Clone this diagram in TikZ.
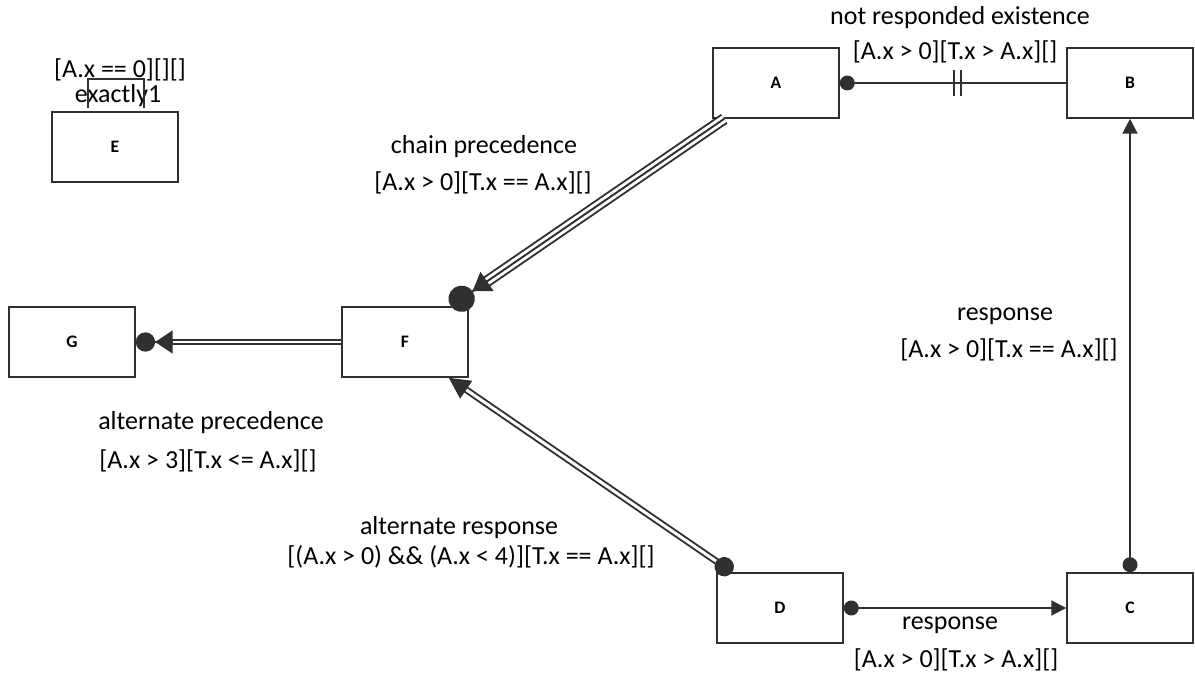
\documentclass[tikz,border=0pt]{standalone}
\usepackage{fontspec}
\setmainfont{Carlito}
\usepackage{tikz}
\usetikzlibrary{arrows.meta, calc}
\definecolor{linegray}{HTML}{303030}
\tikzstyle{conn} = [line width=1.3pt, draw=linegray]
\tikzstyle{dbl} = [draw=linegray, line width=1.1pt, double=white, double distance=1.7pt]
\tikzstyle{trpl} = [draw=linegray, line width=1.1pt, double=white, double distance=4.4pt]
\tikzstyle{tipline} = [line width=1.1pt, draw=linegray]

\begin{document}
\begin{tikzpicture}[box/.style={rectangle, draw=linegray, line width=0.9pt, minimum width=2.52cm, minimum height=1.4cm, font=\fontsize{10}{12}\selectfont\bfseries},
    lbl/.style={font=\fontsize{14.8}{16}\selectfont, inner sep=0pt}]
    \useasboundingbox (0,0) rectangle (23.9,13.5);

    \node[box] (E) at (2.30, 10.56) {E};
    \node[box] (A) at (15.52, 11.84) {A};
    \node[box] (B) at (22.60, 11.84) {B};
    \node[box] (F) at (8.10, 6.66) {F};
    \node[box] (G) at (1.44, 6.66) {G};
    \node[box] (D) at (15.60, 1.34) {D};
    \node[box] (C) at (22.60, 1.34) {C};

    % E
    \node[lbl] (econd) at (2.40, 12.10) {[A.x == 0][][]};
    \node[lbl] (ecard) at (2.36, 11.58) {exactly1};
    \draw[linegray, line width=0.9pt] (1.76, 11.34) |- (2.88, 11.92) -- (2.88, 11.34);

    % A - B
    \node[lbl] (abname) at (19.20, 13.14) {not responded existence};
    \node[lbl] (abcond) at (19.10, 12.46) {[A.x > 0][T.x > A.x][]};
    \draw[conn, {Circle[length=8.5pt]}-] (A.east) -- coordinate[pos=0.52] (ab) (B.west);
    \draw[linegray, line width=1.1pt] ($(ab)+(-0.07,-0.26)$) -- ++(0,0.52);
    \draw[linegray, line width=1.1pt] ($(ab)+(0.07,-0.26)$) -- ++(0,0.52);

    % A - F
    \node[lbl] (afname) at (9.68, 10.56) {chain precedence};
    \node[lbl] (afcond) at (9.66, 9.84) {[A.x > 0][T.x == A.x][]};
    \coordinate (af1) at ($(A.south west)+(0.24,0)$);
    \coordinate (af2) at ($(F.north east)+(-0.36,0)$);
    \draw[trpl, shorten >=0.8cm] (af1) -- (af2);
    \draw[linegray, line width=1.1pt, shorten >=0.8cm] (af1) -- (af2);
    \draw[tipline, -{Triangle[length=10pt,width=13pt] Circle[length=15pt]}] ($(af2)!0.88cm!(af1)$) -- (af2);

    % F - G
    \node[lbl] (fgname) at (4.22, 5.04) {alternate precedence};
    \node[lbl] (fgcond) at (4.16, 4.28) {[A.x > 3][T.x <= A.x][]};
    \draw[dbl, shorten >=0.7cm] (F.west) -- (G.east);
    \draw[tipline, -{Triangle[length=10pt,width=13pt] Circle[length=11pt]}] ($(G.east)!0.74cm!(F.west)$) -- (G.east);

    % D - F
    \node[lbl] (dfname) at (9.18, 2.94) {alternate response};
    \node[lbl] (dfcond) at (9.42, 2.36) {[(A.x > 0) \&\& (A.x < 4)][T.x == A.x][]};
    \coordinate (df1) at ($(D.north west)+(0.32,0)$);
    \coordinate (df2) at ($(F.south east)+(-0.40,0)$);
    \draw[dbl, shorten <=0.35cm, shorten >=0.38cm] (df1) -- (df2);
    \draw[tipline, {Circle[length=11pt]}-] (df1) -- ($(df1)!0.39cm!(df2)$);
    \draw[tipline, -{Triangle[length=12pt,width=12pt]}] ($(df2)!0.42cm!(df1)$) -- (df2);

    % D - C
    \node[lbl] (dcname) at (19.00, 1.00) {response};
    \node[lbl] (dccond) at (19.12, 0.30) {[A.x > 0][T.x > A.x][]};
    \draw[conn, {Circle[length=8.5pt]}-{Triangle[length=8.5pt,width=8.5pt]}] (D.east) -- (C.west);

    % C - B
    \node[lbl] (cbname) at (20.10, 7.18) {response};
    \node[lbl] (cbcond) at (20.18, 6.50) {[A.x > 0][T.x == A.x][]};
    \draw[conn, {Circle[length=8.5pt]}-{Triangle[length=8.5pt,width=8.5pt]}] (C.north) -- (B.south);
\end{tikzpicture}
\end{document}
